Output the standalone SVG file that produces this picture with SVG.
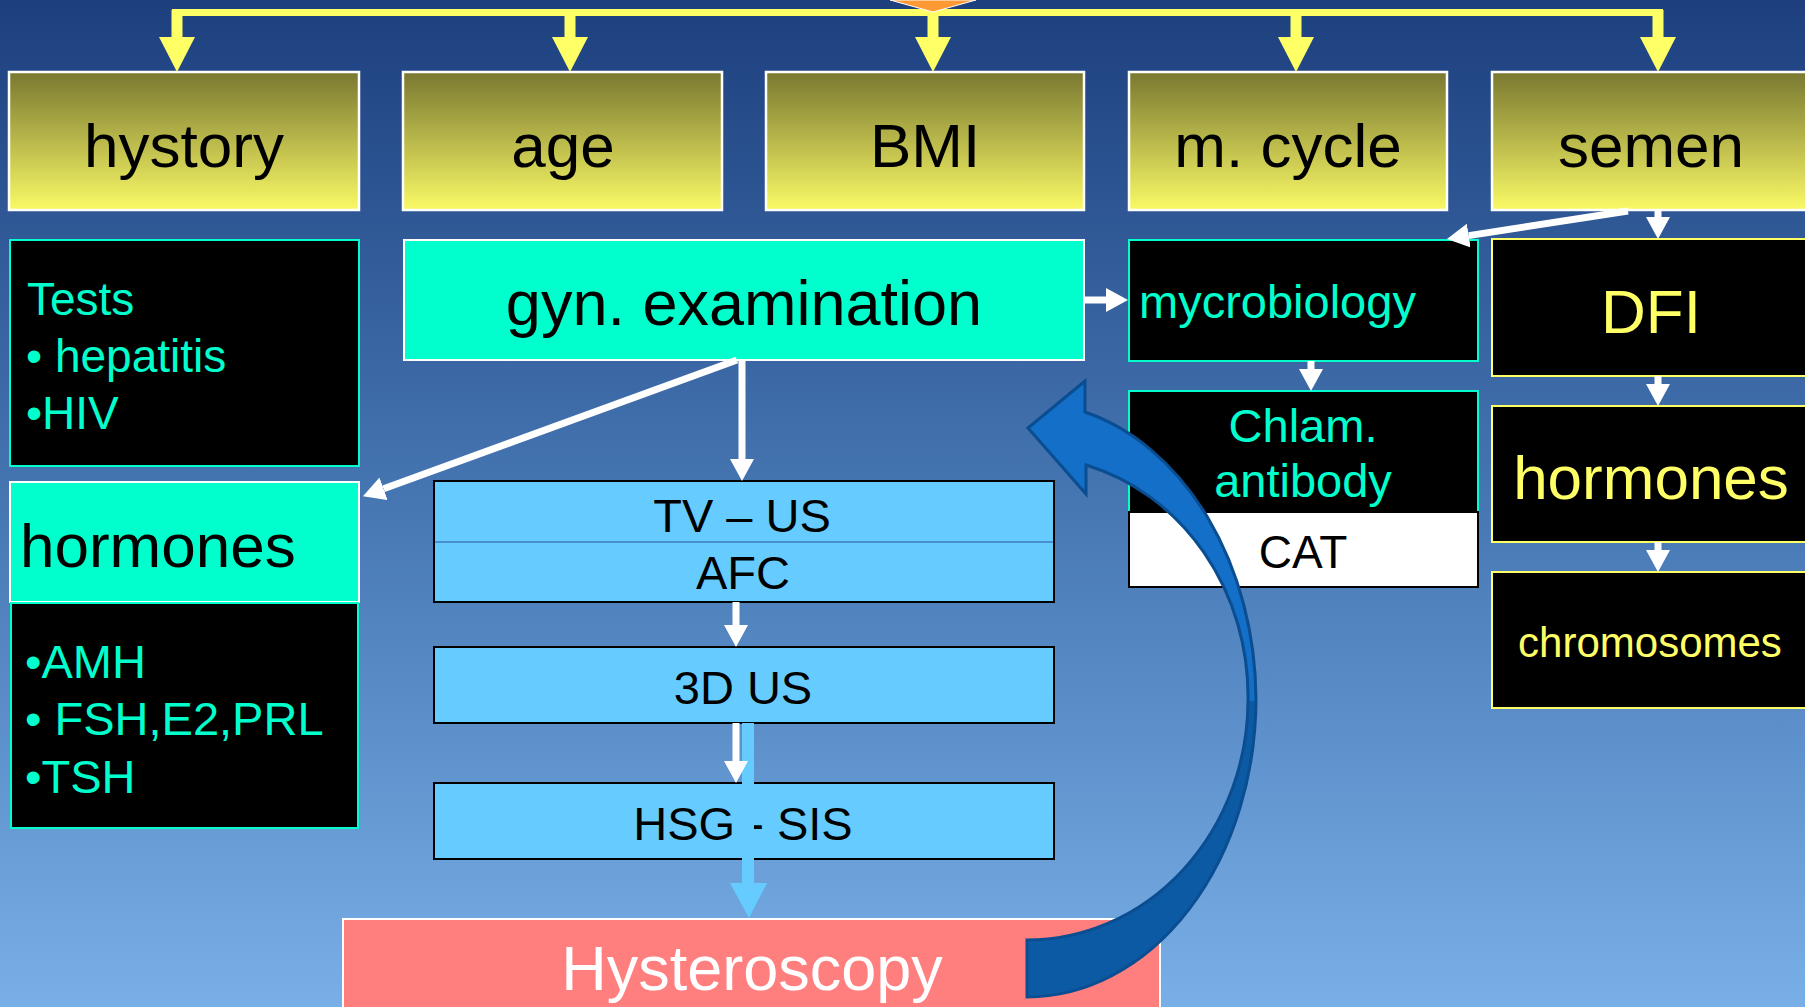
<svg xmlns="http://www.w3.org/2000/svg" width="1805" height="1007" viewBox="0 0 1805 1007">
<defs>
<linearGradient id="bg" x1="0" y1="0" x2="0" y2="1">
<stop offset="0" stop-color="#1d3f7e"/>
<stop offset="0.5" stop-color="#4677b3"/>
<stop offset="1" stop-color="#79afe7"/>
</linearGradient>
<linearGradient id="yb" x1="0" y1="0" x2="0" y2="1">
<stop offset="0" stop-color="#797831"/>
<stop offset="0.5" stop-color="#b9b84b"/>
<stop offset="1" stop-color="#fafa66"/>
</linearGradient>
<linearGradient id="curv" gradientUnits="userSpaceOnUse" x1="0" y1="381" x2="0" y2="997">
<stop offset="0" stop-color="#136fc7"/>
<stop offset="0.52" stop-color="#136fc7"/>
<stop offset="0.52" stop-color="#0d5aa4"/>
<stop offset="1" stop-color="#0d5aa4"/>
</linearGradient>
<marker id="ya" markerUnits="userSpaceOnUse" markerWidth="36" markerHeight="36" refX="0" refY="18" orient="auto">
<path d="M0,0 L35,18 L0,36 Z" fill="#ffff66"/>
</marker>
<marker id="wa" markerUnits="userSpaceOnUse" markerWidth="24" markerHeight="24" refX="0" refY="12" orient="auto">
<path d="M0,0 L22,12 L0,24 Z" fill="#ffffff"/>
</marker>
<style>
text{font-family:"Liberation Sans",Arial,sans-serif}
.yb{fill:url(#yb);stroke:#ffffff;stroke-width:2.5}
.yt{font-size:62px;fill:#000;text-anchor:middle}
.blk{fill:#000;stroke:#00ffcc;stroke-width:2}
.blky{fill:#000;stroke:#ffff66;stroke-width:2}
.cy{fill:#00ffcc;stroke:#ffffff;stroke-width:2}
.lb{fill:#66ccff;stroke:#000;stroke-width:2}
.ct{fill:#00ffcc}
.ytx{fill:#ffff66}
.m47{font-size:47px}
.mid{text-anchor:middle}
.ys{stroke:#ffff66;stroke-width:11;fill:none;marker-end:url(#ya)}
.ws{stroke:#ffffff;stroke-width:7;fill:none;marker-end:url(#wa)}
</style>
</defs>
<rect width="1805" height="1007" fill="url(#bg)"/>

<g id="n-hystory"><rect class="yb" x="9" y="72" width="350" height="138"/><text class="yt" x="184" y="167">hystory</text></g>
<g id="n-age"><rect class="yb" x="403" y="72" width="319" height="138"/><text class="yt" x="563" y="167">age</text></g>
<g id="n-bmi"><rect class="yb" x="766" y="72" width="318" height="138"/><text class="yt" x="925" y="167">BMI</text></g>
<g id="n-cycle"><rect class="yb" x="1129" y="72" width="318" height="138"/><text class="yt" x="1288" y="167">m. cycle</text></g>
<g id="n-semen"><rect class="yb" x="1492" y="72" width="330" height="138"/><text class="yt" x="1651" y="167">semen</text></g>

<g id="n-tests"><rect class="blk" x="10" y="240" width="349" height="226"/>
<text class="ct" x="27" y="315" font-size="46">Tests</text>
<text class="ct" x="26" y="372" font-size="46">• hepatitis</text>
<text class="ct" x="26" y="429" font-size="46">•HIV</text></g>

<g id="n-hormones-f"><rect class="cy" x="10" y="482" width="349" height="120"/>
<text x="20" y="567" font-size="62" fill="#000">hormones</text></g>
<g id="n-hormlist"><rect class="blk" x="11" y="603" width="347" height="225"/>
<text class="ct m47" x="25" y="678">•AMH</text>
<text class="ct m47" x="25" y="735">• FSH,E2,PRL</text>
<text class="ct m47" x="25" y="793">•TSH</text></g>

<g id="n-gyn"><rect class="cy" x="404" y="240" width="680" height="120"/>
<text x="744" y="325" font-size="63" text-anchor="middle" fill="#000">gyn. examination</text></g>

<g id="n-tvus"><rect class="lb" x="434" y="481" width="620" height="121"/>
<line x1="435" y1="542" x2="1053" y2="542" stroke="#4a8fd0" stroke-width="2"/>
<text class="m47 mid" x="742" y="532" fill="#000">TV – US</text>
<text class="m47 mid" x="743" y="589" fill="#000">AFC</text></g>
<g id="n-3dus"><rect class="lb" x="434" y="647" width="620" height="76"/>
<text class="m47 mid" x="743" y="704" fill="#000">3D US</text></g>
<g id="n-hsg"><rect class="lb" x="434" y="783" width="620" height="76"/>
<text class="m47 mid" x="743" y="840" fill="#000">HSG - SIS</text></g>
<g id="n-hyst"><rect x="343" y="919" width="817" height="100" fill="#ff7f7f" stroke="#ffffff" stroke-width="2"/>
<text x="752" y="990" font-size="63" text-anchor="middle" fill="#ffffff">Hysteroscopy</text></g>

<g id="n-mycro"><rect class="blk" x="1129" y="240" width="349" height="121"/>
<text class="ct m47" x="1139" y="318">mycrobiology</text></g>
<g id="n-chlam"><rect class="blk" x="1129" y="391" width="349" height="121"/>
<text class="ct m47 mid" x="1303" y="442">Chlam.</text>
<text class="ct m47 mid" x="1303" y="497">antibody</text></g>
<g id="n-cat"><rect x="1129" y="512" width="349" height="75" fill="#ffffff" stroke="#000" stroke-width="2"/>
<text x="1303" y="568" font-size="46" text-anchor="middle" fill="#000">CAT</text></g>

<g id="n-dfi"><rect class="blky" x="1492" y="239" width="330" height="137"/>
<text class="ytx mid" x="1651" y="333" font-size="62">DFI</text></g>
<g id="n-hormones-m"><rect class="blky" x="1492" y="406" width="330" height="136"/>
<text class="ytx mid" x="1651" y="499" font-size="62">hormones</text></g>
<g id="n-chrom"><rect class="blky" x="1492" y="572" width="330" height="136"/>
<text class="ytx mid" x="1650" y="657" font-size="42">chromosomes</text></g>

<g id="connectors">
<line x1="172" y1="12.5" x2="1663" y2="12.5" stroke="#ffff66" stroke-width="7"/>
<path class="ys" d="M177,10 V37"/>
<path class="ys" d="M570,10 V37"/>
<path class="ys" d="M933,10 V37"/>
<path class="ys" d="M1296,10 V37"/>
<path class="ys" d="M1658,10 V37"/>
<polygon points="890,0 976,0 933,12" fill="#ff9933" stroke="#ffffff" stroke-width="1"/>

<path class="ws" d="M1085,300 H1106" stroke-width="8"/>
<path class="ws" d="M737,360 L383.6,488.8"/>
<path class="ws" d="M742,361 V459"/>
<path class="ws" d="M736,602 V625"/>
<path d="M748,723 V883" stroke="#66ccff" stroke-width="12" fill="none"/>
<polygon points="730,883 767,883 749,918" fill="#66ccff"/>
<path class="ws" d="M736,723 V761"/>
<path class="ws" d="M1311,361 V369" stroke-width="8"/>
<path class="ws" d="M1628,211 L1468.7,235.6"/>
<path class="ws" d="M1658,210 V217" stroke-width="8"/>
<path class="ws" d="M1658,376 V384" stroke-width="8"/>
<path class="ws" d="M1658,542 V550" stroke-width="8"/>

<path d="M1027,997 A229,299 0 0 0 1256,698 A229,299 0 0 0 1085,412 L1085,381 L1028,428 L1086,494 L1086,465 A221,240 0 0 1 1248,700 A221,240 0 0 1 1027,940 Z" fill="url(#curv)" stroke="#0a4d91" stroke-width="3" stroke-linejoin="miter"/>
</g>
</svg>
